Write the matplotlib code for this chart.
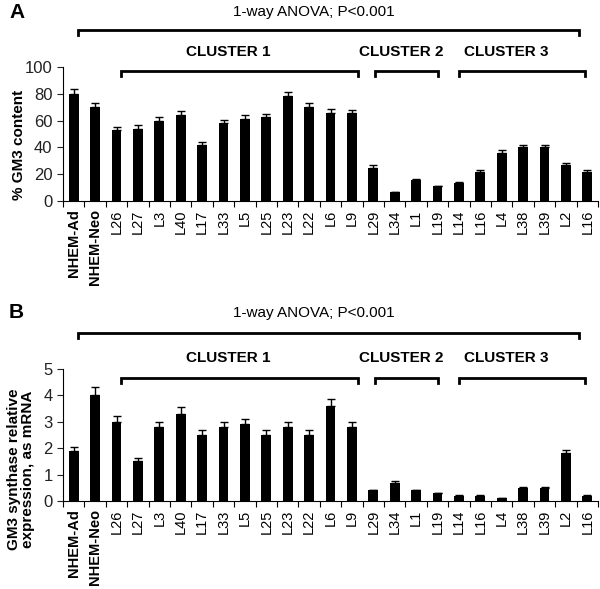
import matplotlib
matplotlib.use('Agg')
import matplotlib.pyplot as plt
import matplotlib.transforms as mtransforms
import numpy as np

plt.rcParams['font.family'] = ['Liberation Sans', 'DejaVu Sans']

labels = ['NHEM-Ad', 'NHEM-Neo', 'L26', 'L27', 'L3', 'L40', 'L17', 'L33', 'L5',
          'L25', 'L23', 'L22', 'L6', 'L9', 'L29', 'L34', 'L1', 'L19', 'L14',
          'L16', 'L4', 'L38', 'L39', 'L2', 'L16']

gm3 = [80, 70, 53, 54, 60, 64, 42, 58, 61, 62.5, 78, 70, 66, 65.5,
       25, 6.5, 16, 11, 13.5, 22, 36, 40, 40, 27, 22]
gm3_err = [3.5, 3, 2.5, 2.5, 3, 3, 2, 2.5, 3, 2.5, 3.5, 3, 2.5, 2.5,
           1.5, 0.5, 0.5, 0.5, 0.5, 1.5, 2, 2, 2, 1.5, 1.5]

mrna = [1.9, 4.0, 3.0, 1.5, 2.8, 3.3, 2.5, 2.8, 2.9, 2.5, 2.8, 2.5, 3.6, 2.8,
        0.4, 0.7, 0.4, 0.3, 0.2, 0.2, 0.1, 0.5, 0.5, 1.8, 0.2]
mrna_err = [0.15, 0.3, 0.22, 0.12, 0.2, 0.25, 0.18, 0.2, 0.2, 0.18, 0.2, 0.18, 0.25, 0.2,
            0.02, 0.04, 0.02, 0.02, 0.01, 0.01, 0.01, 0.02, 0.02, 0.12, 0.01]

clusters = ['CLUSTER 1', 'CLUSTER 2', 'CLUSTER 3']
cluster_span = [(2.2, 13.3), (14.1, 17.0), (18.0, 23.9)]
cluster_text_x = [7.2, 15.3, 20.2]

W, H = 600, 589
fig = plt.figure(figsize=(6, 5.89), dpi=100)


def fy(py):
    return (H - py) / H


def panel(rect, vals, errs, ymax, ystep, ylabel, lab_xy, letter, ys):
    ax = fig.add_axes(rect)
    x = np.arange(len(labels))
    ax.bar(x, vals, width=0.46, color='black', zorder=2)
    ax.errorbar(x, vals, yerr=[np.zeros(len(vals)), errs], fmt='none',
                ecolor='black', elinewidth=1, capsize=3, capthick=1, zorder=3)
    ax.set_xlim(-0.5, len(labels) - 0.5)
    ax.set_ylim(0, ymax)
    ax.set_yticks(np.arange(0, ymax + ystep / 2, ystep))
    ax.tick_params(axis='y', labelsize=12, length=4, width=0.8, colors='#222222')
    ax.set_xticks(x)
    ax.set_xticklabels(labels, rotation=90, fontsize=10.5)
    for t in ax.get_xticklabels()[:2]:
        t.set_fontweight('bold')
    ax.tick_params(axis='x', length=0, pad=6)
    ax.set_xticks(np.arange(-0.5, len(labels), 1), minor=True)
    ax.tick_params(axis='x', which='minor', length=4, width=0.8)
    for s in ['top', 'right']:
        ax.spines[s].set_visible(False)
    ax.spines['left'].set_linewidth(0.8)
    ax.spines['bottom'].set_linewidth(0.8)
    ax.set_ylabel(ylabel, fontsize=11, fontweight='bold', linespacing=1.05)
    ax.yaxis.set_label_coords(*lab_xy)

    tr = mtransforms.blended_transform_factory(ax.transData, fig.transFigure)
    y_txt, y_top, y_ctxt, y_cl = ys
    fig.text(9 / W, fy(y_txt), letter, fontsize=15, fontweight='bold',
             ha='left', va='center')
    ax.text(11.2, fy(y_txt), '1-way ANOVA; P<0.001', transform=tr,
            ha='center', va='center', fontsize=11)

    def bracket(x0, x1, y):
        ax.plot([x0, x0, x1, x1], [fy(y + 5), fy(y), fy(y), fy(y + 5)],
                transform=tr, color='black', lw=2, clip_on=False,
                solid_joinstyle='miter')

    bracket(0.2, 23.6, y_top)
    for name, (a, b), tx in zip(clusters, cluster_span, cluster_text_x):
        bracket(a, b, y_cl)
        ax.text(tx, fy(y_ctxt), name, transform=tr, ha='center', va='center',
                fontsize=11, fontweight='bold')
    return ax


panel([63 / W, fy(201), 535 / W, 134 / H], gm3, gm3_err, 100, 20,
      '% GM3 content', (-0.07, 0.42), 'A', (12, 30, 52, 71))
panel([63 / W, fy(501), 535 / W, 132 / H], mrna, mrna_err, 5, 1,
      'GM3 synthase relative\nexpression, as mRNA', (-0.052, 0.24), 'B',
      (313, 333, 358, 378))

plt.savefig('out.png', dpi=100)
